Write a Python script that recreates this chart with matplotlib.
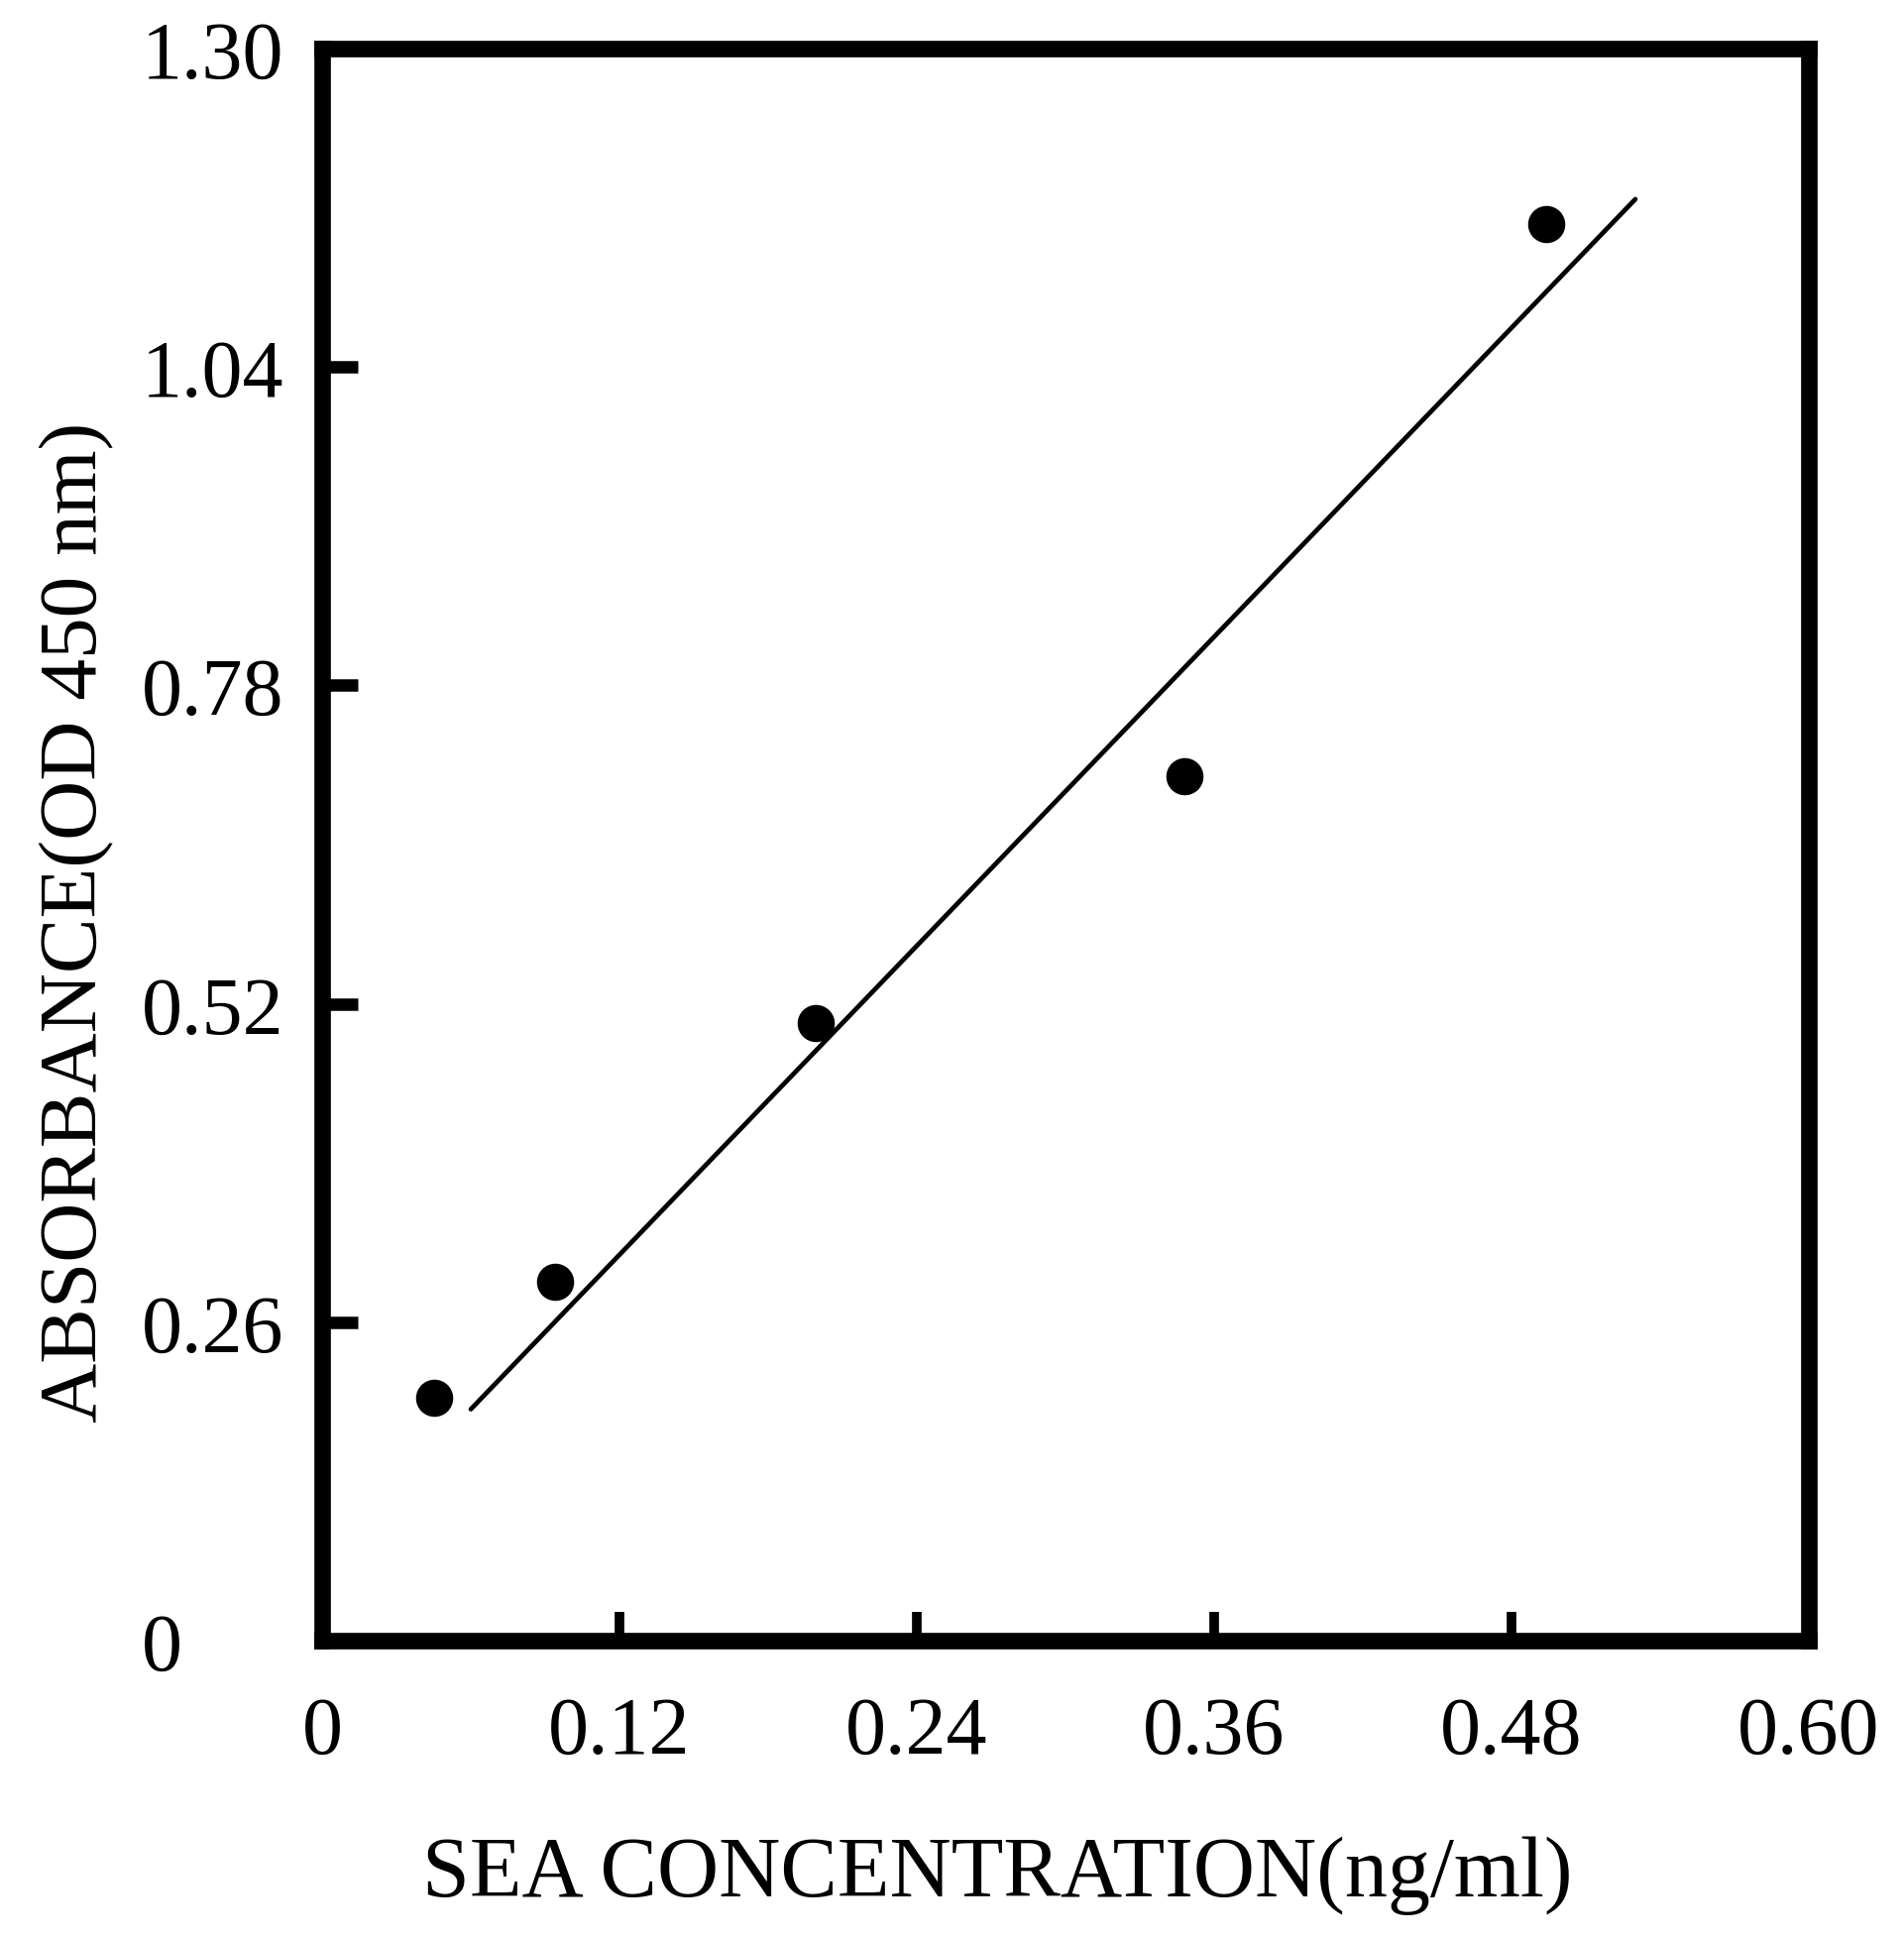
import matplotlib
matplotlib.use("Agg")
import matplotlib.pyplot as plt

# Measured points (SEA concentration vs absorbance)
conc = [0.045, 0.094, 0.199, 0.348, 0.494]
absorbance = [0.198, 0.293, 0.504, 0.706, 1.157]

# Fitted standard line (end points)
fit_conc = [0.060, 0.530]
fit_abs = [0.189, 1.177]

x_ticks = [0, 0.12, 0.24, 0.36, 0.48, 0.60]
x_tick_labels = ["0", "0.12", "0.24", "0.36", "0.48", "0.60"]
y_ticks = [0, 0.26, 0.52, 0.78, 1.04, 1.30]
y_tick_labels = ["0", "0.26", "0.52", "0.78", "1.04", "1.30"]

plt.rcParams["font.family"] = ["Liberation Serif", "DejaVu Serif"]

fig = plt.figure(figsize=(19.21, 19.58), dpi=100)
ax = fig.add_axes([0.1692, 0.1542, 0.7808, 0.8203])

ax.plot(fit_conc, fit_abs, color="black", linewidth=3.4, solid_capstyle="round")
ax.plot(conc, absorbance, "o", color="black", markersize=26)

ax.set_xlim(0, 0.60)
ax.set_ylim(0, 1.30)

for side in ax.spines:
    ax.spines[side].set_linewidth(12)

ax.set_xticks(x_ticks)
ax.set_xticklabels(x_tick_labels)
ax.set_yticks(y_ticks)
ax.set_yticklabels(y_tick_labels)

ax.tick_params(axis="x", direction="in", length=21, width=7, labelsize=59, pad=40)
ax.tick_params(axis="y", direction="in", length=26, width=9, labelsize=59, pad=131)
for lab in ax.get_yticklabels():
    lab.set_horizontalalignment("left")
# end ticks sit on the frame corners, hide them
ax.xaxis.get_major_ticks()[0].tick1line.set_visible(False)
ax.xaxis.get_major_ticks()[-1].tick1line.set_visible(False)
ax.yaxis.get_major_ticks()[0].tick1line.set_visible(False)
ax.yaxis.get_major_ticks()[-1].tick1line.set_visible(False)

ax.set_xlabel("SEA CONCENTRATION(ng/ml)", fontsize=62, va="center")
ax.xaxis.set_label_coords(0.454, -0.147)
ax.set_ylabel("ABSORBANCE(OD 450 nm)", fontsize=60, va="center")
ax.yaxis.set_label_coords(-0.165, 0.452)

fig.savefig("out.png", dpi=100)
